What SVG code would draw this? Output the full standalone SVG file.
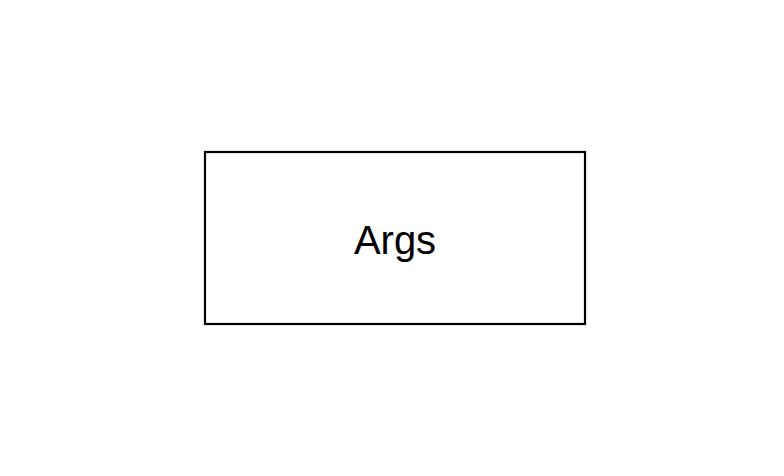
<svg xmlns="http://www.w3.org/2000/svg" width="784" height="476" viewBox="0 0 784 476">
<style>
.box{fill:#ffffff;stroke:#000000;stroke-width:2.2}
.lbl{font-family:"Liberation Sans",Arial,sans-serif;font-size:40px;fill:#000000;text-anchor:middle}
</style>
<rect width="784" height="476" fill="#ffffff"/>
<g id="connectors"></g>
<g id="args">
<rect class="box" x="205" y="152" width="380" height="172"/>
<text class="lbl" x="395" y="254">Args</text>
</g>
</svg>
